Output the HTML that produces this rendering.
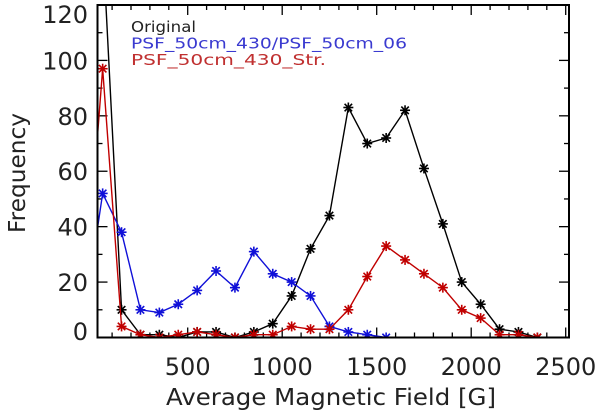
<!DOCTYPE html>
<html><head><meta charset="utf-8"><style>
html,body{margin:0;padding:0;background:#fff;}
svg{display:block;}
text{font-family:"DejaVu Sans","Liberation Sans",sans-serif;}
</style></head><body>
<svg id="chart" width="600" height="415" viewBox="0 0 600 415" xmlns="http://www.w3.org/2000/svg">
<defs><clipPath id="plotclip"><rect x="97.5" y="5" width="471.5" height="332.5"/></clipPath></defs>
<g id="axes"></g>
<g id="series" clip-path="url(#plotclip)"></g>
<rect x="97.5" y="5" width="471.5" height="332.5" fill="none" stroke="#000" stroke-width="2"/>
<text x="131" y="32" font-size="15" fill="#222" textLength="65" lengthAdjust="spacingAndGlyphs">Original</text>
<text x="131" y="48.5" font-size="15" fill="#3a3ad0" textLength="276" lengthAdjust="spacingAndGlyphs">PSF_50cm_430/PSF_50cm_06</text>
<text x="131" y="65" font-size="15" fill="#c03030" textLength="195" lengthAdjust="spacingAndGlyphs">PSF_50cm_430_Str.</text>
<text x="331" y="405" font-size="23" fill="#222" text-anchor="middle" textLength="330" lengthAdjust="spacingAndGlyphs">Average Magnetic Field [G]</text>
<text transform="translate(25,173) rotate(-90)" font-size="23" fill="#222" text-anchor="middle" textLength="120" lengthAdjust="spacingAndGlyphs">Frequency</text>
</svg>
<script>
const bins = [-50,50,150,250,350,450,550,650,750,850,950,1050,1150,1250,1350,1450,1550,1650,1750,1850,1950,2050,2150,2250,2350];
const originalVals = [null,143,10,1,1,0,2,2,0,2,5,15,32,44,83,70,72,82,61,41,20,12,3,2,0];
const blueVals = [6,52,38,10,9,12,17,24,18,31,23,20,15,4,2,1,0,null,null,null,null,null,null,null,null];
const redVals = [8,97,4,1,0,1,2,1,0,1,1,4,3,3,10,22,33,28,23,18,10,7,1,1,0];
const xTicks = [500,1000,1500,2000,2500];
const yTicks = [0,20,40,60,80,100,120];

const NS = "http://www.w3.org/2000/svg";
function xs(v){ return 93.2 + v*0.189; }
function ys(v){ return 337.5 - v*2.771; }
const axes = document.getElementById('axes');
const series = document.getElementById('series');
function mk(tag, attrs, parent){ const e=document.createElementNS(NS,tag); for(const k in attrs) e.setAttribute(k,attrs[k]); parent.appendChild(e); return e; }

for(let v=100; v<=2500; v+=100){
  const x=xs(v); if(x<98||x>569) continue;
  const major = v%500===0; const L = major?10:5;
  const t1=mk('line',{x1:x,y1:337.5,x2:x,y2:337.5-L,stroke:'#000','stroke-width':1.3},axes);
  
  
  const t2=mk('line',{x1:x,y1:5,x2:x,y2:5+L,stroke:'#000','stroke-width':1.3},axes);
  
  
}
for(let v=10; v<120; v+=10){
  const y=ys(v); const L = v%20===0?10:5;
  const t1=mk('line',{x1:97.5,y1:y,x2:97.5+L,y2:y,stroke:'#000','stroke-width':1.3},axes);
  
  
  const t2=mk('line',{x1:569,y1:y,x2:569-L,y2:y,stroke:'#000','stroke-width':1.3},axes);
  
  
}
xTicks.forEach(v=>{
  const t=mk('text',{x:xs(v),y:375,'font-size':24,fill:'#222','text-anchor':'middle'},axes);
  t.textContent=String(v);
  
  
});
yTicks.forEach(v=>{
  let by = ys(v)+9;
  if(by>340) by=340;
  if(by<23) by=23;
  const t=mk('text',{x:88,y:by,'font-size':24,fill:'#222','text-anchor':'end'},axes);
  t.textContent=String(v);
  
  
});

function drawSeries(vals, color, name){
  const g=mk('g',{},series);
  
  
  const pts=[];
  vals.forEach((v,i)=>{ if(v!==null) pts.push([xs(bins[i]),ys(v)]); });
  const pl=mk('polyline',{points:pts.map(p=>p.join(',')).join(' '),fill:'none',stroke:color,'stroke-width':1.4},g);
  
  
  pts.forEach(p=>{
    const m=mk('g',{transform:`translate(${p[0]},${p[1]})`,stroke:color,'stroke-width':1.6},g);
    
    
    const r=5;
    mk('line',{x1:-r,y1:0,x2:r,y2:0},m);
    mk('line',{x1:0,y1:-r,x2:0,y2:r},m);
    mk('line',{x1:-r*0.75,y1:-r*0.75,x2:r*0.75,y2:r*0.75},m);
    mk('line',{x1:-r*0.75,y1:r*0.75,x2:r*0.75,y2:-r*0.75},m);
  });
}
drawSeries(originalVals,'#000','series-original');
drawSeries(blueVals,'#1010d8','series-psf-ratio');
drawSeries(redVals,'#c00000','series-psf-str');
</script>
</body></html>
